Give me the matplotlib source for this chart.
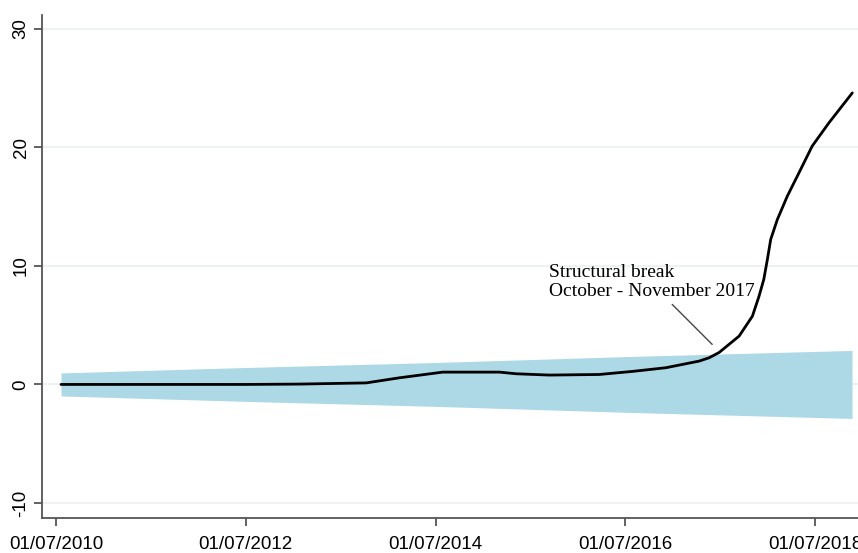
import matplotlib
matplotlib.use("Agg")
import numpy as np
import matplotlib.pyplot as plt

# decimal years (01/07/YYYY = YYYY.5)
line_x = [2010.553, 2011.5, 2012.5, 2013.068, 2013.77, 2014.12, 2014.577, 2015.174,
          2015.35, 2015.70, 2016.226, 2016.577, 2016.928, 2017.279, 2017.384, 2017.49,
          2017.70, 2017.84, 2017.91, 2017.96, 2017.998, 2018.033, 2018.103, 2018.208,
          2018.331, 2018.47, 2018.647, 2018.893]
line_y = [0.0, 0.0, 0.0, 0.03, 0.13, 0.56, 1.04, 1.04,
          0.9, 0.79, 0.84, 1.1, 1.41, 1.97, 2.25, 2.7,
          4.08, 5.76, 7.45, 8.86, 10.55, 12.24, 13.92, 15.89,
          17.86, 20.11, 22.08, 24.6]

band_x = [2010.553, 2012.5, 2014.5, 2016.5, 2018.89]
band_half = [0.97, 1.43, 1.85, 2.35, 2.87]

tick_pos = [2010.5, 2012.5, 2014.5, 2016.5, 2018.5]
tick_labels = ["01/07/2010", "01/07/2012", "01/07/2014", "01/07/2016", "01/07/2018"]
yticks = [-10, 0, 10, 20, 30]

plt.rcParams['font.family'] = ['Liberation Sans', 'DejaVu Sans']

fig = plt.figure(figsize=(8.58, 5.53), dpi=100)
ax = fig.add_axes([0.049, 0.0633, 0.951, 0.9097])

band_half = np.array(band_half)
ax.fill_between(band_x, -band_half, band_half, color="#add8e6", linewidth=0, zorder=2)
ax.plot(line_x, line_y, color="black", linewidth=2.0, zorder=3,
        solid_joinstyle="round", solid_capstyle="round")

ax.set_xlim(2010.353, 2018.953)
ax.set_ylim(-11.27, 31.18)
ax.set_xticks(tick_pos)
ax.set_xticklabels(tick_labels, fontsize=13.5)
ax.set_yticks(yticks)
ax.set_yticklabels([str(v) for v in yticks], fontsize=13.5, rotation=90, va="center")

ax.grid(axis="y", color="#e8f1f3", linewidth=1.2, zorder=1)
ax.set_axisbelow(True)
for s in ["top", "right"]:
    ax.spines[s].set_visible(False)
for s in ["left", "bottom"]:
    ax.spines[s].set_color("#555555")
    ax.spines[s].set_linewidth(1.3)
ax.tick_params(direction="out", length=6, width=1.3, color="#555555", pad=3)
ax.tick_params(axis="x", pad=7)

# annotation of the break
ax.text(2015.70, 8.65, "Structural break\nOctober - November 2017",
        fontsize=14, family=['Liberation Serif'], ha="left", va="center",
        linespacing=1.15, zorder=4)
ax.annotate("", xy=(2017.416, 3.38), xytext=(2016.995, 6.75),
            arrowprops=dict(arrowstyle="-", color="#444444", lw=1,
                            shrinkA=0, shrinkB=0))

fig.savefig("out.png", dpi=100)
